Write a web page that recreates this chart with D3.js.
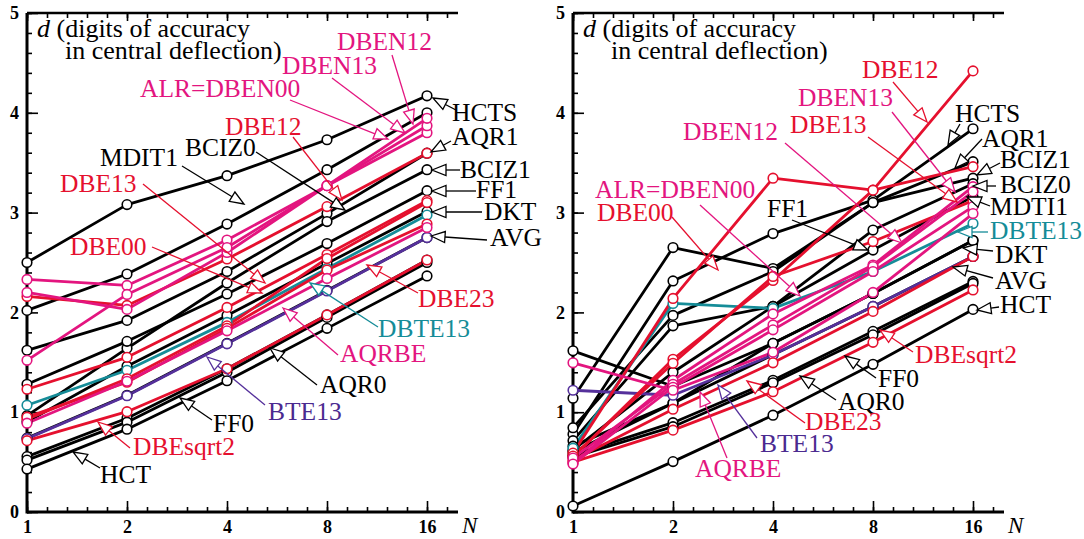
<!DOCTYPE html>
<html>
<head>
<meta charset="utf-8">
<script src="https://cdn.jsdelivr.net/npm/d3@7"></script>
<style>
  body { margin: 0; background: #fff; }
  text { font-family: "Liberation Serif", "Times New Roman", Times, serif; }
</style>
</head>
<body>
<svg id="chart" width="1084" height="539"></svg>
<script>
// number of elements N (x axis, log2)
const nValues = [1, 2, 4, 8, 16];
const yTickValues = [0, 1, 2, 3, 4, 5];

// left panel: series names and d at N = 1, 2, 4, 8, 16
const leftNames = ["HCTS", "MDIT1", "AQR1", "BCIZ1", "FF1", "DKT", "AVG", "AQR0", "FF0", "HCT",
  "DBTE13", "BTE13", "DBE12", "DBE13", "DBE00", "DBE23", "DBEsqrt2",
  "DBEN12", "DBEN13", "ALR=DBEN00", "AQRBE"];
const leftValues = [
  [2.50, 3.08, 3.37, 3.73, 4.17],
  [2.02, 2.385, 2.885, 3.43, 4.00],
  [1.62, 1.92, 2.41, 2.99, 3.595],
  [0.965, 1.64, 2.295, 2.91, 3.43],
  [1.28, 1.71, 2.185, 2.69, 3.22],
  [0.905, 1.46, 1.97, 2.49, 3.01],
  [0.74, 1.17, 1.69, 2.22, 2.75],
  [0.555, 0.94, 1.435, 1.975, 2.525],
  [0.52, 0.90, 1.40, 1.95, 2.50],
  [0.43, 0.83, 1.315, 1.84, 2.365],
  [1.07, 1.42, 1.90, 2.44, 2.975],
  [0.735, 1.165, 1.685, 2.215, 2.75],
  [2.16, 2.07, 2.535, 3.06, 3.595],
  [1.23, 1.55, 2.05, 2.58, 3.12],
  [0.93, 1.335, 1.865, 2.54, 3.10],
  [0.95, 1.30, 1.84, 2.425, 2.885],
  [0.715, 1.005, 1.435, 1.975, 2.525],
  [2.33, 2.27, 2.725, 3.27, 3.80],
  [2.20, 2.03, 2.60, 3.27, 3.87],
  [1.52, 2.18, 2.65, 3.27, 3.945],
  [0.89, 1.31, 1.815, 2.34, 2.85]
];

// right panel
const rightNames = ["HCTS", "AQR1", "BCIZ1", "BCIZ0", "MDTI1", "FF1", "DKT", "AVG", "FF0", "AQR0", "HCT",
  "DBTE13", "BTE13", "DBE12", "DBE00", "DBE13", "DBE23", "DBEsqrt2",
  "DBEN13", "DBEN12", "ALR=DBEN00", "AQRBE"];
const rightValues = [
  [0.78, 2.315, 2.79, 3.125, 3.84],
  [1.14, 2.65, 2.44, 3.10, 3.51],
  [0.845, 1.97, 2.41, 3.10, 3.345],
  [0.715, 1.865, 2.06, 2.825, 3.29],
  [0.62, 1.40, 2.06, 2.625, 3.16],
  [1.615, 1.26, 1.69, 2.19, 2.72],
  [0.66, 1.09, 1.69, 2.19, 2.72],
  [0.60, 1.09, 1.575, 2.06, 2.56],
  [0.57, 0.895, 1.32, 1.81, 2.31],
  [0.55, 0.855, 1.295, 1.775, 2.29],
  [0.06, 0.505, 0.97, 1.48, 2.03],
  [0.64, 2.09, 2.04, 2.41, 2.89],
  [1.22, 1.17, 1.575, 2.06, 2.56],
  [0.55, 1.53, 2.32, 3.225, 4.42],
  [0.59, 2.14, 3.345, 3.225, 3.46],
  [0.56, 1.49, 2.36, 2.71, 3.12],
  [0.52, 1.03, 1.495, 2.01, 2.56],
  [0.50, 0.82, 1.205, 1.70, 2.225],
  [0.49, 1.32, 1.985, 2.475, 3.26],
  [0.54, 1.28, 1.875, 2.46, 3.21],
  [0.48, 1.25, 1.825, 2.41, 3.06],
  [1.495, 1.22, 1.60, 2.20, 2.99]
];

// callout labels: text, baseline position, leader start, arrow tip (pixels)
const leftLabels = [
  ["DBEN12", 337, 50, 392, 55, 413, 124],
  ["DBEN13", 282, 74, 332, 78, 405, 133],
  ["ALR=DBEN00", 140, 97, 290, 100, 388, 139],
  ["DBE12", 225, 135, 293, 137, 342, 200],
  ["BCIZ0", 185, 156, 256, 152, 345, 210],
  ["MDIT1", 100, 166, 182, 166, 244, 204],
  ["DBE13", 60, 192, 143, 184, 265, 283],
  ["DBE00", 70, 255, 152, 247, 262, 293],
  ["HCTS", 452, 121, 456, 110, 433, 98],
  ["AQR1", 452, 145, 451, 141, 431, 152],
  ["BCIZ1", 460, 178, 460, 170, 432, 170],
  ["FF1", 476, 198, 476, 191, 432, 191],
  ["DKT", 484, 220, 482, 212, 432, 212],
  ["AVG", 490, 246, 487, 240, 431, 236],
  ["DBE23", 418, 307, 418, 293, 367, 265],
  ["DBTE13", 378, 337, 378, 327, 310, 283],
  ["AQRBE", 340, 362, 338, 355, 283, 308],
  ["AQR0", 320, 393, 317, 385, 270, 348],
  ["BTE13", 268, 420, 265, 405, 207, 357],
  ["FF0", 213, 432, 212, 420, 180, 398],
  ["DBEsqrt2", 133, 455, 130, 448, 98, 422],
  ["HCT", 100, 483, 100, 468, 73, 452]
];
const rightLabels = [
  ["DBE12", 862, 78, 893, 82, 927, 122],
  ["DBEN13", 798, 106, 892, 112, 955, 192],
  ["DBE13", 790, 133, 868, 137, 957, 202],
  ["HCTS", 955, 122, 960, 124, 948, 145],
  ["AQR1", 982, 147, 982, 139, 955, 168],
  ["BCIZ1", 1000, 168, 1000, 163, 977, 175],
  ["BCIZ0", 1000, 193, 996, 186, 973, 186],
  ["MDTI1", 990, 215, 990, 206, 967, 197],
  ["DBTE13", 990, 239, 988, 232, 958, 232],
  ["DKT", 995, 263, 993, 251, 963, 248],
  ["AVG", 995, 289, 993, 278, 953, 267],
  ["HCT", 1000, 313, 999, 307, 977, 310],
  ["DBEN12", 683, 140, 785, 143, 902, 243],
  ["ALR=DBEN00", 595, 198, 700, 205, 800, 296],
  ["DBE00", 597, 221, 672, 217, 718, 270],
  ["FF1", 767, 217, 792, 220, 868, 250],
  ["DBEsqrt2", 915, 363, 913, 352, 880, 330],
  ["FF0", 878, 387, 876, 378, 845, 356],
  ["AQR0", 838, 410, 836, 400, 800, 376],
  ["DBE23", 805, 430, 805, 423, 747, 381],
  ["BTE13", 760, 452, 757, 438, 718, 385],
  ["AQRBE", 695, 477, 727, 458, 700, 392]
];

const colors = { black: "#000000", red: "#e5102e", pink: "#e3157f", teal: "#158c98", purple: "#55309b" };
const textColors = { black: "#000000", red: "#e5102e", pink: "#e3157f", teal: "#158c98", purple: "#4b2a90" };
const drawOrder = ["black", "teal", "purple", "red", "pink"];

function family(name) {
  if (name.startsWith("DBTE")) return "teal";
  if (name.startsWith("BTE")) return "purple";
  if (name.startsWith("DBEN") || name.startsWith("ALR") || name === "AQRBE") return "pink";
  if (name.startsWith("DBE")) return "red";
  return "black";
}

const svg = d3.select("#chart");
svg.append("rect").attr("width", 1084).attr("height", 539).attr("fill", "#fff");

const y = d3.scaleLinear().domain([0, 5]).range([512, 13]);

function drawPanel(x0, names, values, labels) {
  const x = d3.scaleLog().base(2).domain([1, 16]).range([x0, x0 + 400]);
  const xEnd = x0 + 431;
  const g = svg.append("g");

  const minorX = d3.range(0, 4.3, 0.2).map(k => Math.pow(2, k));
  const minorY = d3.range(0, 5.01, 0.2);

  // bottom axis, ticks inward
  g.append("g").attr("transform", "translate(0,512)")
    .call(d3.axisBottom(x).tickValues(minorX).tickSize(-5).tickFormat(""))
    .call(a => a.select(".domain").remove());
  g.append("g").attr("transform", "translate(0,512)")
    .call(d3.axisBottom(x).tickValues(nValues).tickSize(-11).tickPadding(8).tickFormat(d3.format("d")))
    .call(a => a.select(".domain").remove())
    .call(a => a.selectAll("text").attr("font-size", 18).attr("font-weight", "bold")
      .attr("font-family", "Liberation Serif").attr("fill", "#000"));
  // top border ticks
  g.append("g").attr("transform", "translate(0,13)")
    .call(d3.axisTop(x).tickValues(minorX).tickSize(-5).tickFormat(""))
    .call(a => a.select(".domain").remove());
  g.append("g").attr("transform", "translate(0,13)")
    .call(d3.axisTop(x).tickValues(nValues).tickSize(-8).tickFormat(""))
    .call(a => a.select(".domain").remove());
  // left axis
  g.append("g").attr("transform", `translate(${x0},0)`)
    .call(d3.axisLeft(y).tickValues(minorY).tickSize(-5).tickFormat(""))
    .call(a => a.select(".domain").remove());
  g.append("g").attr("transform", `translate(${x0},0)`)
    .call(d3.axisLeft(y).tickValues(yTickValues).tickSize(-11).tickPadding(8).tickFormat(d3.format("d")))
    .call(a => a.select(".domain").remove())
    .call(a => a.selectAll("text").attr("font-size", 18).attr("font-weight", "bold")
      .attr("font-family", "Liberation Serif").attr("fill", "#000"));
  g.selectAll(".tick line").attr("stroke", "#000").attr("stroke-width", 1.6);

  g.append("line").attr("x1", x0).attr("x2", xEnd).attr("y1", 512).attr("y2", 512)
    .attr("stroke", "#000").attr("stroke-width", 3);
  g.append("line").attr("x1", x0).attr("x2", xEnd).attr("y1", 13).attr("y2", 13)
    .attr("stroke", "#000").attr("stroke-width", 2.5);
  g.append("line").attr("x1", x0).attr("x2", x0).attr("y1", 13).attr("y2", 513.5)
    .attr("stroke", "#000").attr("stroke-width", 3);

  g.append("text").attr("x", xEnd + 4).attr("y", 533).attr("font-size", 23)
    .attr("font-style", "italic").text("N");

  // axis title
  const t = g.append("text").attr("font-size", 26).attr("fill", "#000");
  t.append("tspan").attr("x", x0 + 10).attr("y", 37).attr("font-style", "italic").text("d");
  t.append("tspan").text(" (digits of accuracy");
  t.append("tspan").attr("x", x0 + 38).attr("y", 59).text("in central deflection)");

  // series
  const series = names.map((name, i) => ({
    name, fam: family(name),
    pts: nValues.map((n, j) => ({ n, d: values[i][j] }))
  }));
  series.sort((a, b) => drawOrder.indexOf(a.fam) - drawOrder.indexOf(b.fam));
  const line = d3.line().x(p => x(p.n)).y(p => y(p.d));

  g.append("g").selectAll("path").data(series).join("path")
    .attr("d", s => line(s.pts))
    .attr("fill", "none")
    .attr("stroke", s => colors[s.fam])
    .attr("stroke-width", 2.8)
    .attr("stroke-linejoin", "round");

  g.append("g").selectAll("g").data(series).join("g")
    .selectAll("circle").data(s => s.pts.map(p => ({ ...p, fam: s.fam }))).join("circle")
    .attr("cx", p => x(p.n)).attr("cy", p => y(p.d)).attr("r", 4.8)
    .attr("fill", "#fff").attr("stroke", p => colors[p.fam]).attr("stroke-width", 1.6);

  // callouts with hollow arrow heads
  const cg = g.append("g");
  labels.forEach(([txt, tx, ty, fx, fy, ax, ay]) => {
    const c = colors[family(txt)];
    const ang = Math.atan2(ay - fy, ax - fx);
    const len = 14, hw = 5.5;
    const bx = ax - len * Math.cos(ang), by = ay - len * Math.sin(ang);
    const px = -Math.sin(ang) * hw, py = Math.cos(ang) * hw;
    cg.append("line").attr("x1", fx).attr("y1", fy).attr("x2", bx).attr("y2", by)
      .attr("stroke", c).attr("stroke-width", 1.3);
    cg.append("polygon")
      .attr("points", [[ax, ay], [bx + px, by + py], [bx - px, by - py]].map(p => p.join(",")).join(" "))
      .attr("fill", "#fff").attr("stroke", c).attr("stroke-width", 1.3);
    cg.append("text").attr("x", tx).attr("y", ty).attr("font-size", 25.5)
      .attr("fill", textColors[family(txt)]).text(txt);
  });
}

drawPanel(27, leftNames, leftValues, leftLabels);
drawPanel(573, rightNames, rightValues, rightLabels);
</script>
</body>
</html>
